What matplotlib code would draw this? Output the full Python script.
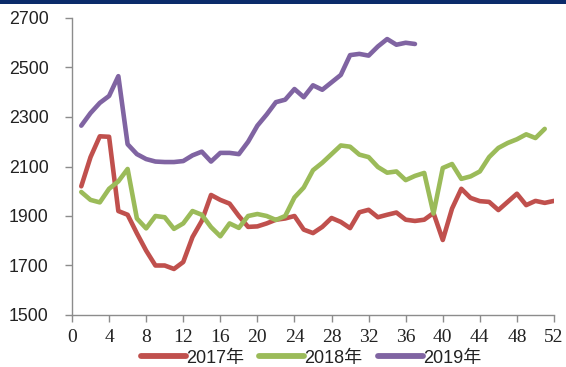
import matplotlib
matplotlib.use("Agg")
import matplotlib.pyplot as plt
from matplotlib.patches import Rectangle

weeks_2017 = list(range(1, 53))
vals_2017 = [2020, 2138, 2222, 2220, 1920, 1905, 1830, 1760, 1700, 1700,
             1686, 1714, 1815, 1880, 1985, 1965, 1950, 1900, 1856, 1858,
             1870, 1885, 1890, 1900, 1845, 1831, 1856, 1892, 1876, 1851,
             1915, 1925, 1895, 1905, 1914, 1885, 1880, 1885, 1912, 1803,
             1930, 2010, 1973, 1960, 1957, 1924, 1957, 1990, 1944, 1961,
             1953, 1961]
weeks_2018 = list(range(1, 52))
vals_2018 = [1997, 1965, 1955, 2010, 2040, 2090, 1890, 1850, 1900, 1895,
             1848, 1870, 1920, 1905, 1855, 1818, 1870, 1852, 1900, 1908,
             1900, 1884, 1900, 1975, 2015, 2085, 2115, 2150, 2185, 2180,
             2148, 2138, 2098, 2075, 2080, 2045, 2062, 2074, 1910, 2094,
             2110, 2050, 2060, 2080, 2138, 2175, 2195, 2210, 2230, 2215,
             2252]
weeks_2019 = list(range(1, 38))
vals_2019 = [2265, 2316, 2357, 2385, 2465, 2190, 2150, 2130, 2120, 2118,
             2118, 2122, 2145, 2160, 2120, 2155, 2155, 2150, 2200, 2265,
             2310, 2360, 2370, 2413, 2380, 2428, 2410, 2440, 2470, 2550,
             2555, 2548, 2585, 2615, 2592, 2600, 2595]
labels = ["2017年", "2018年", "2019年"]
colors = ["#C0504D", "#9BBB59", "#8064A2"]
xticks = list(range(0, 53, 4))
yticks = list(range(1500, 2701, 200))

fig = plt.figure(figsize=(5.66, 3.67), dpi=100)
fig.patch.set_facecolor("white")
fig.patches.append(Rectangle((0, 1 - 3.5 / 367), 1, 3.5 / 367, transform=fig.transFigure,
                             facecolor="#0B2B6A", edgecolor="none"))
ax = fig.add_axes([72 / 566, 1 - 315 / 367, (554 - 72) / 566, (315 - 18) / 367])

for w, v, lab, c in zip([weeks_2017, weeks_2018, weeks_2019],
                        [vals_2017, vals_2018, vals_2019], labels, colors):
    ax.plot(w, v, color=c, lw=3.3, label=lab, solid_joinstyle="round",
            solid_capstyle="round")

ax.set_xlim(0, 52)
ax.set_ylim(1500, 2700)
ax.set_xticks(xticks)
ax.set_yticks(yticks)
for s in ["top", "right"]:
    ax.spines[s].set_visible(False)
for s in ["left", "bottom"]:
    ax.spines[s].set_color("#8C8C8C")
    ax.spines[s].set_linewidth(1.0)
ax.tick_params(axis="both", direction="out", length=5, width=1.0, color="#8C8C8C")
ax.tick_params(axis="x", pad=5)
ax.tick_params(axis="y", pad=12)
for t in ax.get_xticklabels():
    t.set_fontfamily(["Liberation Serif", "DejaVu Serif"])
    t.set_fontsize(14)
    t.set_color("#222222")
for t in ax.get_yticklabels():
    t.set_fontfamily(["Liberation Sans", "DejaVu Sans"])
    t.set_fontsize(12.8)
    t.set_color("#222222")

leg = ax.legend(loc="center", bbox_to_anchor=(311 / 566, (367 - 358) / 367), bbox_transform=fig.transFigure,
                ncol=3, frameon=False, handlelength=2.5, handletextpad=0.0,
                columnspacing=0.85, borderpad=0.0,
                prop={"family": ["Liberation Sans", "Noto Sans CJK SC"], "size": 13})
for t in leg.get_texts():
    t.set_color("#222222")
for h in leg.get_lines():
    h.set_linewidth(4.2)

fig.savefig("out.png", dpi=100, facecolor="white")
